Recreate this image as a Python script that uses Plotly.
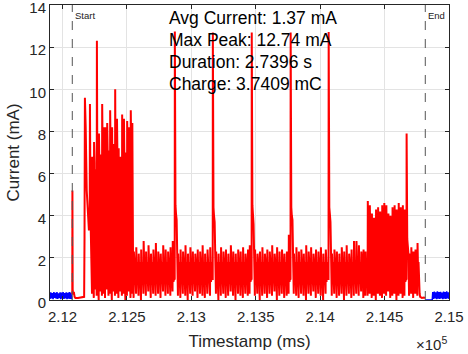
import plotly.graph_objects as go

# ---------------- data (ms, mA) ----------------
start_ms = 212076
end_ms = 214816

stats_lines = ["Avg Current: 1.37 mA", "Max Peak: 12.74 mA",
               "Duration: 2.7396 s", "Charge: 3.7409 mC"]

x_tickvals = [212000, 212500, 213000, 213500, 214000, 214500, 215000]
x_ticktext = ["2.12", "2.125", "2.13", "2.135", "2.14", "2.145", "2.15"]
y_tickvals = [0, 2, 4, 6, 8, 10, 12, 14]

# idle current before the start marker (blue)
pre_t = [211903, 211909, 211915, 211921, 211927, 211933, 211939, 211945, 211951, 211957,
         211963, 211969, 211975, 211981, 211987, 211993, 211999, 212005, 212011, 212017,
         212023, 212029, 212035, 212041, 212047, 212053, 212059, 212065, 212071, 212075]
pre_i = [0.05, 0.36, 0.08, 0.33, 0.04, 0.37, 0.10, 0.34, 0.06, 0.38,
         0.05, 0.32, 0.09, 0.36, 0.04, 0.35, 0.07, 0.37, 0.05, 0.33,
         0.08, 0.36, 0.04, 0.34, 0.06, 0.38, 0.05, 0.35, 0.07, 0.06]

# idle current after the end marker (blue)
post_t = [214816, 214870, 214874, 214880, 214886, 214892, 214898, 214904, 214910, 214916,
          214922, 214928, 214934, 214940, 214946, 214952, 214958, 214964, 214970, 214976,
          214982, 214988, 214994, 215000]
post_i = [0.0, 0.0, 0.38, 0.05, 0.40, 0.07, 0.36, 0.04, 0.41, 0.06,
          0.37, 0.05, 0.39, 0.08, 0.35, 0.04, 0.40, 0.06, 0.38, 0.05,
          0.41, 0.07, 0.36, 0.05]

# wake-up part right after the start marker
wake_t = [212076, 212077, 212079, 212083, 212088, 212094, 212100, 212120, 212150, 212168,
          212171, 212174, 212180, 212188, 212197, 212205, 212211, 212213, 212218, 212224]
wake_i = [0.3, 5.2, 0.5, 0.25, 0.38, 0.15, 0.1, 0.1, 0.12, 0.15,
          3.0, 9.6, 8.2, 5.2, 4.2, 3.3, 3.6, 9.3, 3.8, 0.4]

# high burst
burst_t = [212229, 212243, 212256, 212265, 212281, 212294, 212306, 212320, 212330, 212345,
           212357, 212368, 212383, 212396, 212407, 212421, 212434, 212447, 212461, 212475,
           212488, 212500, 212514, 212528, 212540]
burst_peak = [6.8, 7.5, 6.2, 12.3, 7.9, 6.9, 9.3, 8.2, 8.2, 8.4,
              7.1, 9.0, 8.2, 7.4, 10.0, 8.6, 7.2, 6.8, 8.8, 8.6,
              7.0, 8.5, 8.2, 9.0, 8.4]
burst_sub = [5.9, 6.5, 5.4, 7.1, 6.2, 5.7, 6.8, 6.4, 6.0, 6.9,
             5.8, 6.6, 6.3, 5.9, 7.2, 6.5, 6.0, 5.6, 6.7, 6.4,
             5.8, 6.6, 6.1, 6.9, 6.3]
burst_dip = [0.3, 0.1, 0.5, 0.2, 0.0, 0.4, 0.2, 0.3, 0.1, 0.5,
             0.2, 0.3, 0.0, 0.4, 0.2, 0.3, 0.1, 0.4, 0.2, 0.3,
             0.0, 0.2, 0.4, 0.1, 0.3]

# regular pulse train
pulse_t = [
    212552, 212571, 212590, 212609, 212628, 212647, 212666, 212685, 212704, 212723,
    212742, 212761, 212780, 212799, 212818, 212837, 212854,
    212896, 212915, 212934, 212953, 212972, 212991, 213010, 213029, 213048, 213067,
    213086, 213105, 213124, 213145,
    213191, 213210, 213229, 213248, 213267, 213286, 213305, 213324, 213343, 213362,
    213381, 213400, 213419, 213438, 213452,
    213493, 213512, 213531, 213550, 213569, 213588, 213607, 213626, 213645, 213664,
    213683, 213702, 213721, 213740, 213755,
    213795, 213814, 213833, 213852, 213871, 213890, 213909, 213928, 213947, 213966,
    213985, 214004, 214023, 214042,
    214090, 214109, 214128, 214147, 214166, 214185, 214204, 214223, 214242, 214261,
    214280, 214299, 214318, 214335, 214350,
    214368, 214384, 214400, 214416, 214432, 214448, 214464, 214480, 214496, 214512,
    214528, 214544, 214560, 214576, 214592, 214608, 214624, 214640, 214654,
    214690, 214706, 214722, 214738, 214754,
]
pulse_peak = [
    2.3, 2.5, 2.2, 2.4, 2.8, 2.3, 2.6, 2.2, 2.4, 2.7,
    2.3, 2.2, 2.6, 2.4, 2.3, 2.5, 2.8,
    2.2, 2.4, 2.3, 2.6, 2.2, 2.5, 2.3, 2.2, 2.4, 2.3,
    2.6, 2.2, 2.4, 2.5,
    2.3, 2.2, 2.5, 2.3, 2.4, 2.2, 2.6, 2.3, 2.2, 2.4,
    2.3, 2.5, 2.2, 2.4, 2.6,
    2.4, 2.2, 2.3, 2.5, 2.2, 2.4, 2.3, 2.6, 2.2, 2.5,
    2.3, 2.4, 2.2, 2.3, 3.1,
    2.2, 2.5, 2.3, 2.4, 2.2, 2.6, 2.3, 2.5, 2.2, 2.4,
    2.3, 2.5, 2.2, 2.4,
    2.2, 2.4, 2.3, 2.2, 2.5, 2.3, 2.6, 2.2, 2.4, 2.8,
    2.8, 2.6, 2.3, 2.4, 2.3,
    4.7, 4.5, 4.1, 3.9, 4.3, 4.4, 4.2, 4.5, 4.6, 4.5,
    4.1, 4.0, 4.4, 4.5, 4.3, 4.6, 4.4, 4.5, 4.3,
    2.2, 2.5, 2.3, 2.4, 2.7,
]
pulse_dip = [
    0.1, 0.3, 0.2, 0.0, 0.3, 0.2, 0.4, 0.1, 0.3, 0.2,
    0.3, 0.1, 0.4, 0.2, 0.3, 0.2, 0.4,
    0.2, 0.1, 0.3, 0.2, 0.0, 0.3, 0.2, 0.4, 0.1, 0.3,
    0.2, 0.1, 0.3, 0.2,
    0.3, 0.0, 0.2, 0.3, 0.1, 0.2, 0.4, 0.2, 0.0, 0.3,
    0.2, 0.1, 0.3, 0.2, 0.3,
    0.2, 0.3, 0.0, 0.2, 0.3, 0.1, 0.3, 0.2, 0.4, 0.0,
    0.2, 0.3, 0.1, 0.2, 0.3,
    0.3, 0.2, 0.1, 0.3, 0.2, 0.0, 0.3, 0.2, 0.4, 0.1,
    0.3, 0.2, 0.0, 0.3,
    0.2, 0.3, 0.1, 0.2, 0.3, 0.0, 0.2, 0.3, 0.1, 0.2,
    0.3, 0.2, 0.4, 0.1, 0.2,
    0.2, 0.3, 0.1, 0.2, 0.0, 0.3, 0.2, 0.1, 0.3, 0.2,
    0.4, 0.1, 0.2, 0.3, 0.0, 0.2, 0.3, 0.1, 0.2,
    0.2, 0.3, 0.1, 0.3, 0.2,
]
# plateau levels inside one regular pulse
pulse_body = [1.0, 1.9, 0.85, 1.8, 0.95, 1.75, 1.0]

# tall radio spikes and their decay tails
spike_t = [212872, 213167, 213469, 213771, 214066, 214671]
spike_peak = [12.74, 12.7, 12.7, 12.7, 12.72, 7.9]
spike_tail = [[5.6, 4.5, 4.1, 3.8, 2.0],
              [5.4, 4.4, 4.0, 3.7, 2.0],
              [5.5, 4.5, 4.1, 3.6, 2.0],
              [5.6, 4.4, 4.0, 3.8, 2.0],
              [5.4, 4.4, 4.1, 3.7, 2.0],
              [3.0, 2.9, 2.6, 2.2, 1.5]]

# drop to sleep before the end marker
tail_t = [214772, 214776, 214790, 214805, 214815]
tail_i = [0.3, 0.15, 0.1, 0.12, 0.1]

# ---------------- build the red (active window) trace ----------------
events = list(zip(wake_t, wake_i))
for t, pk, sb, dp in zip(burst_t, burst_peak, burst_sub, burst_dip):
    events += [(t, dp), (t + 2, pk), (t + 4, 1.5), (t + 6, sb), (t + 8, 1.2)]
body_offsets = [3.5, 5.5, 7.5, 9.5, 11.5, 13.0, 14.5]
for t, pk, dp in zip(pulse_t, pulse_peak, pulse_dip):
    events += [(t, dp), (t + 1.8, pk)]
    events += [(t + o, v) for o, v in zip(body_offsets, pulse_body)]
tail_offsets = [2, 5, 9, 14, 19]
for t, pk, tl in zip(spike_t, spike_peak, spike_tail):
    events += [(t - 1, 1.0), (t, pk)]
    events += [(t + o, v) for o, v in zip(tail_offsets, tl)]
events += list(zip(tail_t, tail_i))
events.sort(key=lambda e: e[0])
red_t = [e[0] for e in events]
red_i = [e[1] for e in events]

# ---------------- figure ----------------
AX = "#262626"
FONT = "Liberation Sans, Arial, Helvetica, sans-serif"

fig = go.Figure()
fig.add_trace(go.Scatter(x=pre_t, y=pre_i, mode="lines",
                         line=dict(color="#0000ff", width=1.5), showlegend=False))
fig.add_trace(go.Scatter(x=post_t, y=post_i, mode="lines",
                         line=dict(color="#0000ff", width=1.5), showlegend=False))
fig.add_trace(go.Scatter(x=red_t, y=red_i, mode="lines",
                         line=dict(color="#ff0000", width=2), showlegend=False))

for xm in (start_ms, end_ms):
    fig.add_shape(type="line", x0=xm, x1=xm, y0=0, y1=14, xref="x", yref="y",
                  line=dict(color="#555555", width=1, dash="dash"))

fig.add_annotation(x=start_ms, y=13.5, xref="x", yref="y", text="Start",
                   showarrow=False, xanchor="left", yanchor="middle", xshift=1,
                   font=dict(family=FONT, size=9.5, color="#222222"))
fig.add_annotation(x=end_ms, y=13.5, xref="x", yref="y", text="End",
                   showarrow=False, xanchor="left", yanchor="middle", xshift=1,
                   font=dict(family=FONT, size=9.5, color="#222222"))

for k, line in enumerate(stats_lines):
    fig.add_annotation(x=0.294, y=0.956 - k * 0.0745, xref="paper", yref="paper",
                       text=line, showarrow=False, xanchor="left", yanchor="middle",
                       font=dict(family=FONT, size=17.5, color="#000000"))

fig.add_annotation(x=1.0, y=-0.185, xref="paper", yref="paper",
                   text="×10<sup>5</sup>", showarrow=False, xanchor="right",
                   yanchor="bottom", font=dict(family=FONT, size=15, color=AX))

fig.update_layout(
    width=468, height=354,
    margin=dict(l=50, r=19, t=5, b=54, autoexpand=False),
    paper_bgcolor="white", plot_bgcolor="white",
    font=dict(family=FONT, color=AX),
    xaxis=dict(range=[211903, 215000], tickmode="array", tickvals=x_tickvals,
               ticktext=x_ticktext, ticks="inside", ticklen=4, tickcolor=AX,
               showline=True, linecolor=AX, linewidth=1, mirror="ticks",
               showgrid=True, gridcolor="#e3e3e3", zeroline=False, automargin=False,
               ticklabeloverflow="allow", ticklabelstandoff=3,
               tickfont=dict(size=15, color=AX),
               title=dict(text="Timestamp (ms)", font=dict(size=17, color=AX), standoff=11)),
    yaxis=dict(range=[0, 14], tickmode="array", tickvals=y_tickvals,
               ticks="inside", ticklen=4, tickcolor=AX,
               showline=True, linecolor=AX, linewidth=1, mirror="ticks",
               showgrid=True, gridcolor="#e3e3e3", zeroline=False, automargin=False,
               ticklabeloverflow="allow", ticklabelshift=3,
               tickfont=dict(size=15, color=AX),
               title=dict(text="Current (mA)", font=dict(size=17, color=AX), standoff=5)),
)

fig.write_html("out.html", config={"displayModeBar": False},
               post_script="document.body.style.margin='0px';"
                           "document.body.style.overflow='hidden';")
